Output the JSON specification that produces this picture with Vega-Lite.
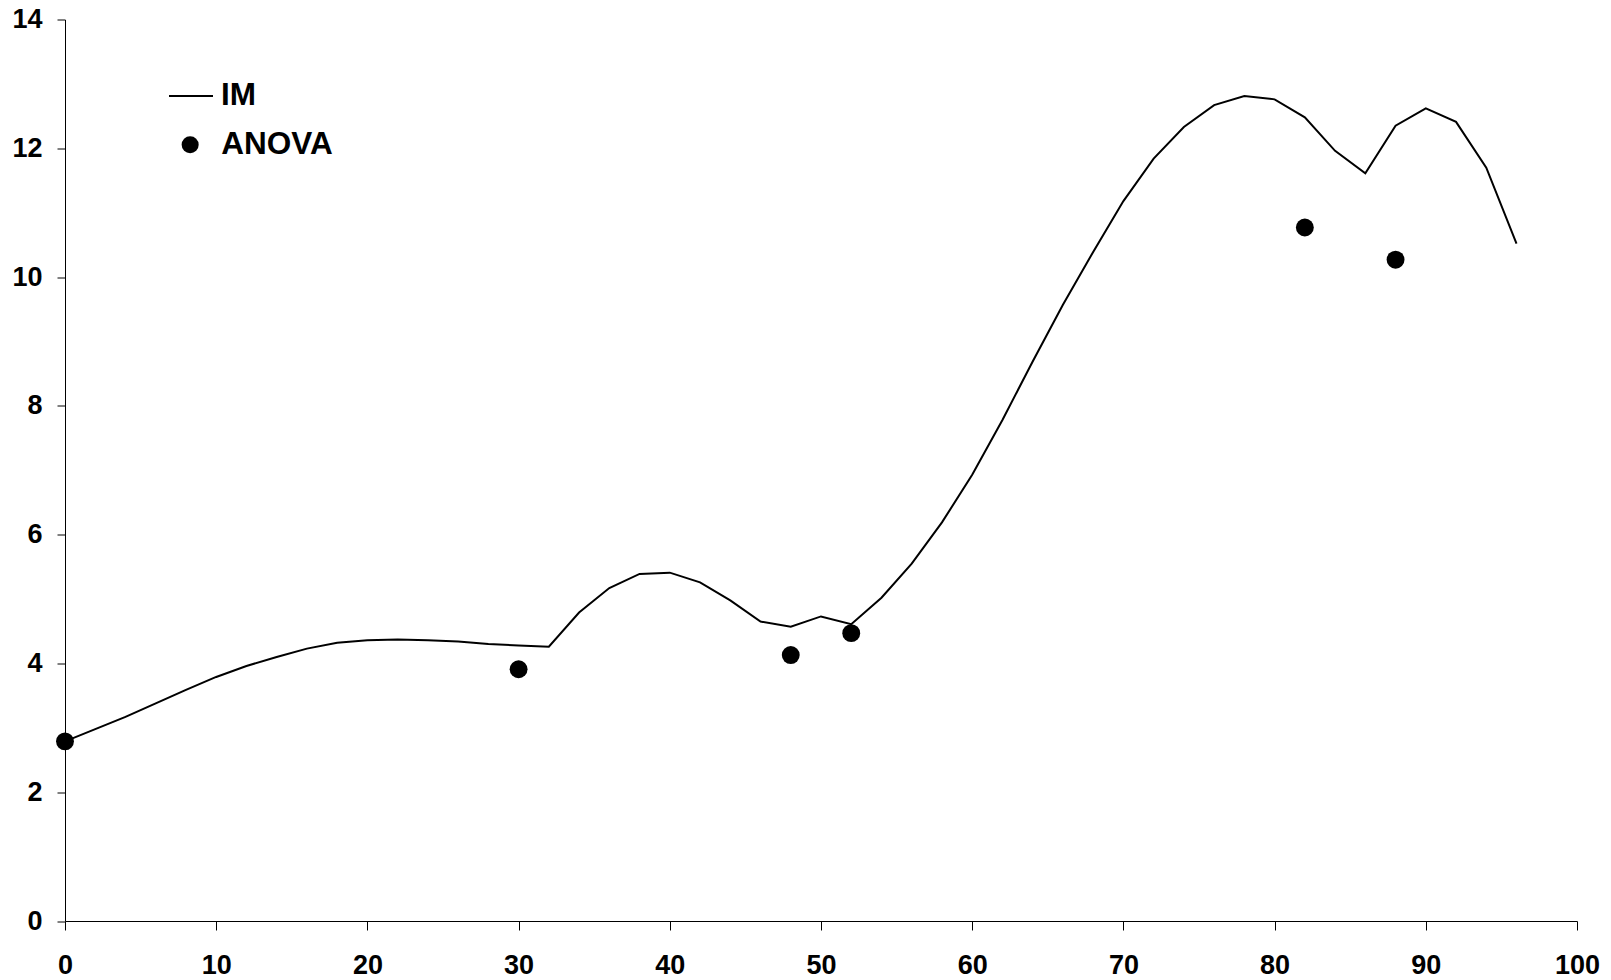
{
  "$schema": "https://vega.github.io/schema/vega-lite/v6.json",
  "width": 1512,
  "height": 901.5,
  "autosize": "none",
  "padding": {"left": 65, "top": 19.5, "right": 34, "bottom": 59},
  "background": "white",
  "config": {
    "view": {"stroke": null},
    "font": "Liberation Sans",
    "axis": {"grid": false, "domainColor": "#000", "tickColor": "#000", "labelColor": "#000", "labelFont": "Liberation Sans", "labelFontWeight": "bold", "labelFontSize": 27, "domainWidth": 1, "tickWidth": 1, "title": null, "format": "d"},
    "legend": {"labelFont": "Liberation Sans", "labelFontWeight": "bold", "labelFontSize": 31.5, "labelColor": "#000", "padding": 0, "title": null}
  },
  "datasets": {
    "im": [
      {"t": 0, "v": 2.79}, {"t": 2, "v": 2.98}, {"t": 4, "v": 3.17}, {"t": 6, "v": 3.38},
      {"t": 8, "v": 3.59}, {"t": 10, "v": 3.79}, {"t": 12, "v": 3.96}, {"t": 14, "v": 4.10},
      {"t": 16, "v": 4.23}, {"t": 18, "v": 4.32}, {"t": 20, "v": 4.36}, {"t": 22, "v": 4.37},
      {"t": 24, "v": 4.36}, {"t": 26, "v": 4.34}, {"t": 28, "v": 4.30}, {"t": 30, "v": 4.28},
      {"t": 32, "v": 4.26}, {"t": 34, "v": 4.79}, {"t": 36, "v": 5.17}, {"t": 38, "v": 5.39},
      {"t": 40, "v": 5.41}, {"t": 42, "v": 5.26}, {"t": 44, "v": 4.98}, {"t": 46, "v": 4.65},
      {"t": 48, "v": 4.57}, {"t": 50, "v": 4.73}, {"t": 52, "v": 4.61}, {"t": 54, "v": 5.02},
      {"t": 56, "v": 5.55}, {"t": 58, "v": 6.19}, {"t": 60, "v": 6.93}, {"t": 62, "v": 7.78},
      {"t": 64, "v": 8.69}, {"t": 66, "v": 9.57}, {"t": 68, "v": 10.39}, {"t": 70, "v": 11.18},
      {"t": 72, "v": 11.84}, {"t": 74, "v": 12.33}, {"t": 76, "v": 12.67}, {"t": 78, "v": 12.81},
      {"t": 80, "v": 12.76}, {"t": 82, "v": 12.48}, {"t": 84, "v": 11.96}, {"t": 86, "v": 11.61},
      {"t": 88, "v": 12.35}, {"t": 90, "v": 12.62}, {"t": 92, "v": 12.41}, {"t": 94, "v": 11.70},
      {"t": 96, "v": 10.52}
    ],
    "anova": [
      {"t": 0, "v": 2.79}, {"t": 30, "v": 3.91}, {"t": 48, "v": 4.13},
      {"t": 52, "v": 4.47}, {"t": 82, "v": 10.77}, {"t": 88, "v": 10.27}
    ]
  },
  "layer": [
    {
      "data": {"name": "im"},
      "mark": {"type": "line", "color": "#000", "strokeWidth": 2},
      "encoding": {
        "x": {"field": "t", "type": "quantitative", "scale": {"domain": [0, 100], "nice": false},
              "axis": {"values": [0, 10, 20, 30, 40, 50, 60, 70, 80, 90, 100], "tickSize": 9, "labelPadding": 22, "labelFlush": false}},
        "y": {"field": "v", "type": "quantitative", "scale": {"domain": [0, 14], "nice": false},
              "axis": {"values": [0, 2, 4, 6, 8, 10, 12, 14], "tickSize": 8, "labelPadding": 15}},
        "stroke": {"datum": "IM", "type": "nominal", "scale": {"domain": ["IM"], "range": ["#000"]},
                   "legend": {"orient": "none", "legendX": 103, "legendY": 53.5, "symbolType": "stroke", "symbolSize": 1936, "symbolStrokeWidth": 2, "symbolStrokeColor": "#000", "labelOffset": 7}}
      }
    },
    {
      "data": {"name": "anova"},
      "mark": {"type": "point", "filled": true, "color": "#000", "opacity": 1, "size": 320},
      "encoding": {
        "x": {"field": "t", "type": "quantitative"},
        "y": {"field": "v", "type": "quantitative"},
        "shape": {"datum": "ANOVA", "type": "nominal", "scale": {"domain": ["ANOVA"], "range": ["circle"]},
                  "legend": {"orient": "none", "legendX": 109.4, "legendY": 109.5, "symbolSize": 290, "symbolFillColor": "#000", "symbolStrokeColor": "#000", "symbolOpacity": 1, "labelOffset": 15.4}}
      }
    }
  ]
}
